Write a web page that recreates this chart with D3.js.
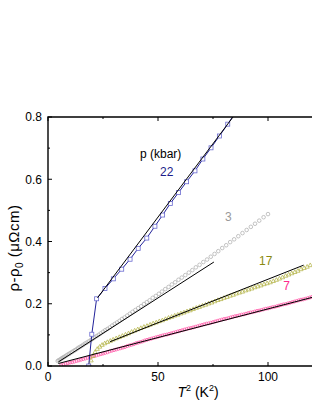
<!DOCTYPE html>
<html>
<head>
<meta charset="utf-8">
<script src="https://cdn.jsdelivr.net/npm/d3@7"></script>
<style>
  html, body { margin: 0; padding: 0; background: #fff; }
  svg { display: block; }
</style>
</head>
<body>
<div id="chart"></div>
<script>
// 22 kbar: squares joined by a line.
const p22T2 = [18.5, 19.9, 22.1, 25.9, 29.7, 33.5, 37.3, 41.0, 44.9, 48.6, 52.1, 55.6, 59.3, 63.0, 66.8, 70.4, 74.1, 77.9, 81.7, 85.5];
const p22Rho = [0.000, 0.102, 0.216, 0.249, 0.280, 0.311, 0.343, 0.378, 0.411, 0.449, 0.485, 0.522, 0.557, 0.592, 0.627, 0.665, 0.701, 0.739, 0.777, 0.818];

// 3 kbar: open circles.
const p3T2 = [4.4, 4.8, 5.3, 5.8, 6.3, 6.8, 7.3, 7.8, 8.4, 9.0, 9.6, 10.2, 10.9, 11.6, 12.3, 13.0, 13.7, 14.4, 15.2, 16.0,
    16.8, 17.6, 18.5, 19.4, 20.3, 21.2, 22.1, 23.0, 24.0, 25.0, 26.0, 27.0, 28.1, 29.2, 30.3, 31.4, 32.5, 33.6, 34.8, 36.0,
    37.2, 38.4, 39.7, 41.0, 42.3, 43.6, 44.9, 46.2, 47.6, 49.0, 50.4, 51.8, 53.3, 54.8, 56.3, 57.8, 59.3, 60.8, 62.4, 64.0,
    65.6, 67.2, 68.9, 70.6, 72.3, 74.0, 75.7, 77.4, 79.2, 81.0, 82.8, 84.6, 86.5, 88.4, 90.3, 92.2, 94.1, 96.0, 98.0, 100.0];
const p3Rho = [0.016, 0.018, 0.020, 0.022, 0.025, 0.027, 0.029, 0.031, 0.034, 0.037, 0.039, 0.042, 0.045, 0.048, 0.051, 0.054, 0.058, 0.061, 0.064, 0.068,
    0.072, 0.075, 0.079, 0.083, 0.087, 0.092, 0.096, 0.100, 0.105, 0.110, 0.115, 0.119, 0.124, 0.130, 0.135, 0.140, 0.145, 0.151, 0.156, 0.162,
    0.168, 0.174, 0.180, 0.186, 0.192, 0.199, 0.205, 0.211, 0.219, 0.225, 0.232, 0.239, 0.247, 0.254, 0.262, 0.269, 0.277, 0.284, 0.292, 0.300,
    0.308, 0.317, 0.325, 0.334, 0.342, 0.351, 0.360, 0.369, 0.379, 0.388, 0.398, 0.407, 0.417, 0.427, 0.437, 0.447, 0.457, 0.467, 0.478, 0.488];

// 17 kbar: open triangles.
const p17T2 = [18.8, 19.6, 20.5, 21.4, 22.4, 23.5, 24.6, 25.8, 27.0, 28.3, 29.6,
    31.0, 32.4, 33.8, 35.2, 36.6, 38.0, 39.4, 40.8, 42.2, 43.6, 45.0, 46.4, 47.8, 49.2, 50.6, 52.0, 53.4, 54.8, 56.2, 57.6,
    59.0, 60.4, 61.8, 63.2, 64.6, 66.0, 67.4, 68.8, 70.2, 71.6, 73.0, 74.4, 75.8, 77.2, 78.6, 80.0, 81.4, 82.8, 84.2, 85.6,
    87.0, 88.4, 89.8, 91.2, 92.6, 94.0, 95.4, 96.8, 98.2, 99.6, 101.0, 102.4, 103.8, 105.2, 106.6, 108.0, 109.4, 110.8, 112.2, 113.6,
    115.0, 116.4, 117.8, 119.2];
const p17Rho = [0.004, 0.018, 0.032, 0.045, 0.055, 0.062, 0.068, 0.073, 0.077, 0.081, 0.085,
    0.089, 0.093, 0.097, 0.101, 0.105, 0.110, 0.114, 0.118, 0.122, 0.126, 0.129, 0.133, 0.137, 0.140, 0.144, 0.147, 0.151, 0.155, 0.158, 0.162,
    0.165, 0.169, 0.172, 0.176, 0.179, 0.183, 0.187, 0.190, 0.194, 0.197, 0.201, 0.204, 0.208, 0.212, 0.215, 0.219, 0.222, 0.226, 0.229, 0.233,
    0.236, 0.239, 0.243, 0.246, 0.249, 0.253, 0.256, 0.259, 0.263, 0.266, 0.269, 0.273, 0.277, 0.281, 0.285, 0.290, 0.294, 0.298, 0.302, 0.306,
    0.311, 0.315, 0.319, 0.324];

// 7 kbar: small open circles.
const p7T2 = [6, 7, 8, 9, 10, 11, 12, 13, 14, 15, 16, 17, 18, 19, 20, 21, 22, 23, 24, 25, 26, 27, 28, 29, 30, 31, 32, 33,
    34, 35, 36, 37, 38, 39, 40, 41, 42, 43, 44, 45, 46, 47, 48, 49, 50, 51, 52, 53, 54, 55, 56, 57, 58, 59, 60,
    61, 62, 63, 64, 65, 66, 67, 68, 69, 70, 71, 72, 73, 74, 75, 76, 77, 78, 79, 80, 81, 82, 83, 84,
    85, 86, 87, 88, 89, 90, 91, 92, 93, 94, 95, 96, 97, 98, 99, 100, 101, 102, 103, 104, 105,
    106, 107, 108, 109, 110, 111, 112, 113, 114, 115, 116, 117, 118, 119, 120];
const p7Rho = [0.003, 0.005, 0.007, 0.009, 0.011, 0.012, 0.014, 0.016, 0.018, 0.020, 0.022, 0.024, 0.026, 0.028, 0.030,
    0.032, 0.034, 0.036, 0.038, 0.040, 0.042, 0.044, 0.047, 0.049, 0.051, 0.053, 0.055, 0.057,
    0.059, 0.061, 0.064, 0.066, 0.068, 0.070, 0.073, 0.075, 0.077, 0.079, 0.082, 0.084, 0.086,
    0.088, 0.090, 0.092, 0.094, 0.096, 0.098, 0.100, 0.101, 0.103, 0.105, 0.107, 0.109, 0.111, 0.113,
    0.115, 0.117, 0.119, 0.121, 0.122, 0.124, 0.126, 0.128, 0.130, 0.132, 0.134, 0.136, 0.137, 0.139, 0.141, 0.143, 0.145, 0.147, 0.149, 0.151, 0.152, 0.154, 0.156, 0.158,
    0.160, 0.161, 0.163, 0.165, 0.166, 0.168, 0.170, 0.172, 0.173, 0.175, 0.177, 0.178, 0.180, 0.182, 0.184, 0.185, 0.187, 0.189, 0.190, 0.192, 0.194,
    0.196, 0.198, 0.199, 0.201, 0.203, 0.205, 0.207, 0.209, 0.211, 0.213, 0.214, 0.216, 0.218, 0.220, 0.222];

// Straight fits (T^2 law), end points [T^2, rho].
const fit22 = [[22.5, 0.219], [86.0, 0.818]];
const fit3 = [[4.7, 0.013], [75.4, 0.334]];
const fit17 = [[28.2, 0.078], [116.2, 0.324]];
const fit7 = [[4.7, 0.008], [122.0, 0.224]];

// Axis ticks and pressure labels.
const xTicks = [0, 50, 100];
const xMinor = [25, 75];
const yTicks = [0, 0.2, 0.4, 0.6, 0.8];
const yMinor = [0.1, 0.3, 0.5, 0.7];
const pressureLabels = [
    {text: "22", t2: 54, rho: 0.612, color: "#1c1c8a"},
    {text: "3", t2: 82, rho: 0.465, color: "#999999"},
    {text: "17", t2: 99, rho: 0.325, color: "#8a8a10"},
    {text: "7", t2: 108.5, rho: 0.245, color: "#ff2a8c"}
];

const width = 312;
const height = 403;
const marginLeft = 48;
const plotRight = 312;
const marginTop = 117;
const plotBottom = 366;

const x = d3.scaleLinear().domain([0, 120]).range([marginLeft, plotRight]);
const y = d3.scaleLinear().domain([0, 0.8]).range([plotBottom, marginTop]);

const svg = d3.select("#chart")
    .append("svg")
    .attr("width", width)
    .attr("height", height)
    .attr("viewBox", [0, 0, width, height])
    .style("font-family", "'Liberation Sans', Arial, sans-serif");

svg.append("defs").append("clipPath")
    .attr("id", "plot-clip")
    .append("rect")
    .attr("x", marginLeft)
    .attr("y", marginTop)
    .attr("width", plotRight + 4 - marginLeft)
    .attr("height", plotBottom - marginTop);

const plot = svg.append("g").attr("clip-path", "url(#plot-clip)");

const zip = (xs, ys) => xs.map((v, i) => [v, ys[i]]);

// 7 kbar circles.
plot.append("g")
    .attr("fill", "none")
    .attr("stroke", "#ff5aa8")
    .attr("stroke-width", 0.8)
    .selectAll("circle")
    .data(zip(p7T2, p7Rho))
    .join("circle")
        .attr("cx", d => x(d[0]))
        .attr("cy", d => y(d[1]))
        .attr("r", 1.5);

// 17 kbar triangles.
plot.append("g")
    .attr("fill", "none")
    .attr("stroke", "#b8b850")
    .attr("stroke-width", 0.8)
    .selectAll("path")
    .data(zip(p17T2, p17Rho))
    .join("path")
        .attr("transform", d => `translate(${x(d[0])},${y(d[1])})`)
        .attr("d", "M0,-2.2L2.1,1.5L-2.1,1.5Z");

// 3 kbar circles.
plot.append("g")
    .attr("fill", "none")
    .attr("stroke", "#b4b4b4")
    .attr("stroke-width", 0.8)
    .selectAll("circle")
    .data(zip(p3T2, p3Rho))
    .join("circle")
        .attr("cx", d => x(d[0]))
        .attr("cy", d => y(d[1]))
        .attr("r", 1.8);

// 22 kbar line and squares.
const line = d3.line().x(d => x(d[0])).y(d => y(d[1]));
plot.append("path")
    .datum(zip(p22T2, p22Rho))
    .attr("fill", "none")
    .attr("stroke", "#22229a")
    .attr("stroke-width", 1)
    .attr("d", line);

plot.append("g")
    .attr("fill", "#fff")
    .attr("stroke", "#6a6ad0")
    .attr("stroke-width", 0.8)
    .selectAll("rect")
    .data(zip(p22T2, p22Rho))
    .join("rect")
        .attr("x", d => x(d[0]) - 2)
        .attr("y", d => y(d[1]) - 2)
        .attr("width", 4)
        .attr("height", 4);

// Fit lines on top.
plot.append("g")
    .attr("fill", "none")
    .attr("stroke", "#000")
    .attr("stroke-width", 1)
    .selectAll("path")
    .data([fit22, fit3, fit17, fit7])
    .join("path")
        .attr("d", line);

// Frame with inward ticks.
const frame = svg.append("g")
    .attr("stroke", "#000")
    .attr("stroke-width", 1.4)
    .attr("fill", "none");
frame.append("path")
    .attr("d", `M${plotRight + 3},${marginTop}H${marginLeft}V${plotBottom}H${plotRight + 3}`);

const ticks = svg.append("g").attr("stroke", "#000").attr("stroke-width", 1);
ticks.selectAll(".xt")
    .data(xTicks.map(v => [v, 4]).concat(xMinor.map(v => [v, 2])))
    .join("path")
        .attr("d", d => `M${x(d[0])},${plotBottom}v${-d[1]}M${x(d[0])},${marginTop}v${d[1]}`);
ticks.selectAll(".yt")
    .data(yTicks.map(v => [v, 4]).concat(yMinor.map(v => [v, 2])))
    .join("path")
        .attr("d", d => `M${marginLeft},${y(d[0])}h${d[1]}`);

// Tick labels.
svg.append("g")
    .attr("font-size", 12)
    .attr("text-anchor", "middle")
    .selectAll("text")
    .data(xTicks)
    .join("text")
        .attr("x", d => x(d))
        .attr("y", 381)
        .text(d => d);

svg.append("g")
    .attr("font-size", 12)
    .attr("text-anchor", "end")
    .selectAll("text")
    .data(yTicks)
    .join("text")
        .attr("x", 42)
        .attr("y", d => y(d))
        .attr("dy", "0.36em")
        .text(d => d.toFixed(1));

// Axis titles.
const xTitle = svg.append("text")
    .attr("x", 198)
    .attr("y", 397)
    .attr("text-anchor", "middle")
    .attr("font-size", 14);
xTitle.append("tspan").attr("font-style", "italic").text("T");
xTitle.append("tspan").attr("font-size", 9).attr("dy", -6).text("2");
xTitle.append("tspan").attr("dy", 6).text(" (K");
xTitle.append("tspan").attr("font-size", 9).attr("dy", -6).text("2");
xTitle.append("tspan").attr("dy", 6).text(")");

const yTitle = svg.append("text")
    .attr("transform", "translate(19,248) rotate(-90)")
    .attr("text-anchor", "middle")
    .attr("font-size", 15)
    .attr("letter-spacing", 0.5);
yTitle.append("tspan").text("ρ-ρ");
yTitle.append("tspan").attr("font-size", 10).attr("dy", 4).text("0");
yTitle.append("tspan").attr("dy", -4).text(" (μΩcm)");

// Pressure annotations.
svg.append("text")
    .attr("x", 140)
    .attr("y", 158)
    .attr("font-size", 12)
    .text("p (kbar)");

svg.append("g")
    .attr("font-size", 12)
    .attr("text-anchor", "middle")
    .selectAll("text")
    .data(pressureLabels)
    .join("text")
        .attr("x", d => x(d.t2))
        .attr("y", d => y(d.rho))
        .attr("fill", d => d.color)
        .text(d => d.text);
</script>
</body>
</html>
